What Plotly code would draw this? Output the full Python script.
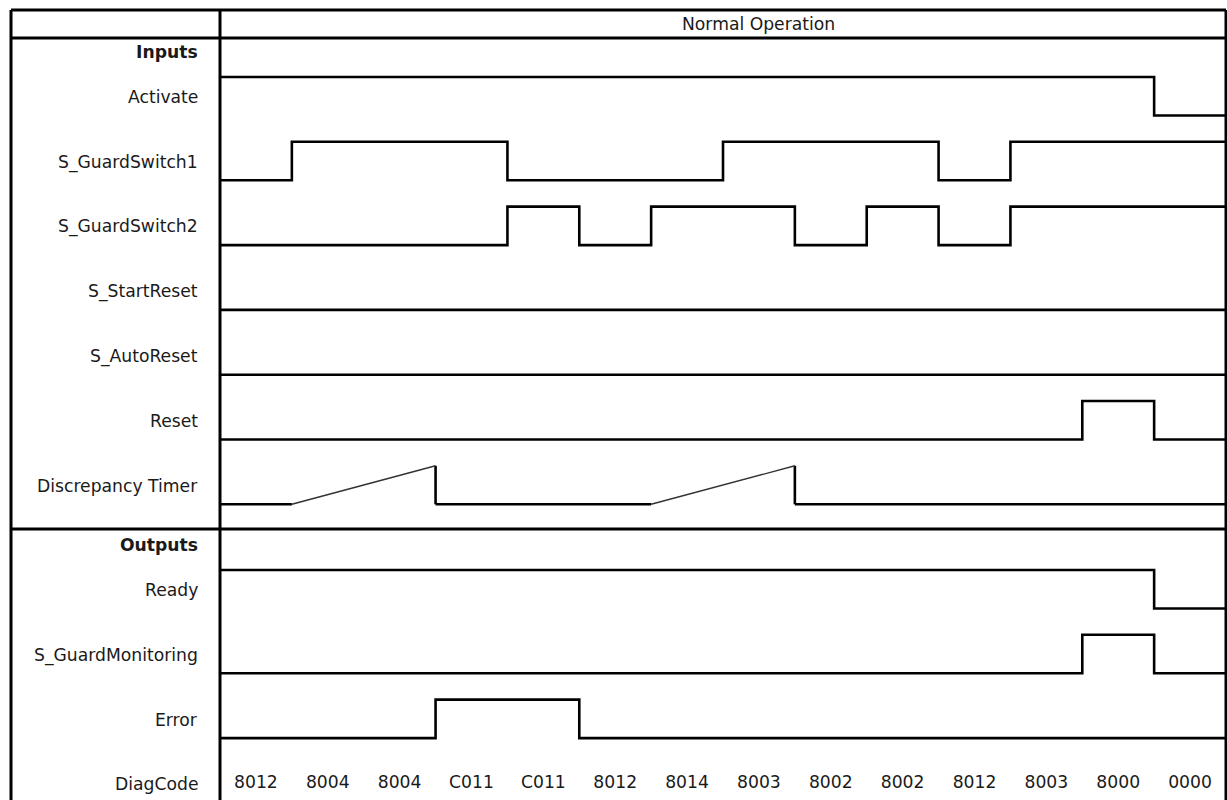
import plotly.graph_objects as go

W, H = 1227, 800

# one level per time slot (14 slots), 1 = high, 0 = low
input_names = ["Activate", "S_GuardSwitch1", "S_GuardSwitch2", "S_StartReset", "S_AutoReset", "Reset"]
input_levels = [
    [1, 1, 1, 1, 1, 1, 1, 1, 1, 1, 1, 1, 1, 0],
    [0, 1, 1, 1, 0, 0, 0, 1, 1, 1, 0, 1, 1, 1],
    [0, 0, 0, 0, 1, 0, 1, 1, 0, 1, 0, 1, 1, 1],
    [0, 0, 0, 0, 0, 0, 0, 0, 0, 0, 0, 0, 0, 0],
    [0, 0, 0, 0, 0, 0, 0, 0, 0, 0, 0, 0, 0, 0],
    [0, 0, 0, 0, 0, 0, 0, 0, 0, 0, 0, 0, 1, 0],
]

# discrepancy timer is a ramp, so keep it as breakpoints
timer_name = "Discrepancy Timer"
timer_t = [0, 1, 3, 3, 6, 8, 8, 14]
timer_v = [0, 0, 1, 0, 0, 1, 0, 0]

output_names = ["Ready", "S_GuardMonitoring", "Error"]
output_levels = [
    [1, 1, 1, 1, 1, 1, 1, 1, 1, 1, 1, 1, 1, 0],
    [0, 0, 0, 0, 0, 0, 0, 0, 0, 0, 0, 0, 1, 0],
    [0, 0, 0, 1, 1, 0, 0, 0, 0, 0, 0, 0, 0, 0],
]

diag_codes = ["8012", "8004", "8004", "C011", "C011", "8012", "8014",
              "8003", "8002", "8002", "8012", "8003", "8000", "0000"]

header_text = "Normal Operation"

# layout in pixels (y axis is set up to run in page pixels)
LEFT, DIV, RIGHT, TOP = 11, 220, 1226, 10
HEADER_LINE, SPLIT_LINE = 38, 529
IN_TOP, OUT_TOP, PITCH, AMP = 77, 570, 64.8, 38.5
LABEL_X = 200
FONT = "DejaVu Sans"
FSIZE = 17.2
INK = "#1a1a1a"


def px(x):
    return x / W


def band(top, level):
    return top + (1 - level) * AMP


fig = go.Figure()
labels = []


def add_step(name, levels, top):
    t = list(range(len(levels) + 1))
    y = [band(top, v) for v in levels] + [band(top, levels[-1])]
    fig.add_trace(go.Scatter(x=t, y=y, mode="lines", line_shape="hv",
                             line=dict(color="black", width=2.6), name=name))
    labels.append((name, top + AMP / 2 + 1, False))


for i, (name, lv) in enumerate(zip(input_names, input_levels)):
    add_step(name, lv, IN_TOP + PITCH * i)

# timer: flat/vertical pieces thick, ramps thin
timer_top = IN_TOP + PITCH * len(input_names)
steps_x, steps_y, ramp_x, ramp_y = [], [], [], []
for k in range(len(timer_t) - 1):
    x0, x1 = timer_t[k], timer_t[k + 1]
    y0, y1 = band(timer_top, timer_v[k]), band(timer_top, timer_v[k + 1])
    if x0 != x1 and y0 != y1:
        ramp_x += [x0, x1, None]
        ramp_y += [y0, y1, None]
    else:
        steps_x += [x0, x1, None]
        steps_y += [y0, y1, None]
fig.add_trace(go.Scatter(x=steps_x, y=steps_y, mode="lines",
                         line=dict(color="black", width=2.6), name=timer_name))
fig.add_trace(go.Scatter(x=ramp_x, y=ramp_y, mode="lines",
                         line=dict(color="#333", width=1.4), name=timer_name))
labels.append((timer_name, timer_top + AMP / 2 + 1, False))

for j, (name, lv) in enumerate(zip(output_names, output_levels)):
    add_step(name, lv, OUT_TOP + PITCH * j)

# diag codes sit mid-slot
fig.add_trace(go.Scatter(x=[k + 0.5 for k in range(len(diag_codes))], y=[784] * len(diag_codes),
                         mode="text", text=diag_codes,
                         textfont=dict(family=FONT, size=FSIZE, color=INK), name="DiagCode"))
labels.append(("DiagCode", 784, False))
labels.append(("Inputs", 52, True))
labels.append(("Outputs", 545, True))

for text, y, bold in labels:
    fig.add_annotation(x=px(LABEL_X), xref="paper", y=y, yref="y", text=f"<b>{text}</b>" if bold else text,
                       showarrow=False, xanchor="right", yanchor="middle",
                       font=dict(family=FONT, size=FSIZE, color=INK))

fig.add_annotation(x=7.5, xref="x", y=24, yref="y", text=header_text, showarrow=False,
                   xanchor="center", yanchor="middle", font=dict(family=FONT, size=FSIZE, color=INK))

# table frame
frame = [
    (LEFT, TOP, RIGHT, TOP),
    (LEFT, HEADER_LINE, RIGHT, HEADER_LINE),
    (LEFT, SPLIT_LINE, RIGHT, SPLIT_LINE),
    (LEFT, TOP, LEFT, H + 5),
    (DIV, TOP, DIV, H + 5),
    (RIGHT, TOP, RIGHT, H + 5),
]
for x0, y0, x1, y1 in frame:
    fig.add_shape(type="line", xref="paper", yref="y", x0=px(x0), x1=px(x1), y0=y0, y1=y1,
                  line=dict(color="black", width=3), layer="above")

n = len(diag_codes)
fig.update_layout(
    width=W, height=H,
    margin=dict(l=0, r=0, t=0, b=0),
    paper_bgcolor="white", plot_bgcolor="white",
    showlegend=False,
    hovermode=False,
    xaxis=dict(domain=[px(DIV), px(RIGHT)], range=[0, n], visible=False, fixedrange=True),
    yaxis=dict(domain=[0, 1], range=[H, 0], visible=False, fixedrange=True),
)

fig.write_html("out.html", config={"displayModeBar": False, "staticPlot": True},
               post_script="document.body.style.margin='0';document.body.style.overflow='hidden';")
